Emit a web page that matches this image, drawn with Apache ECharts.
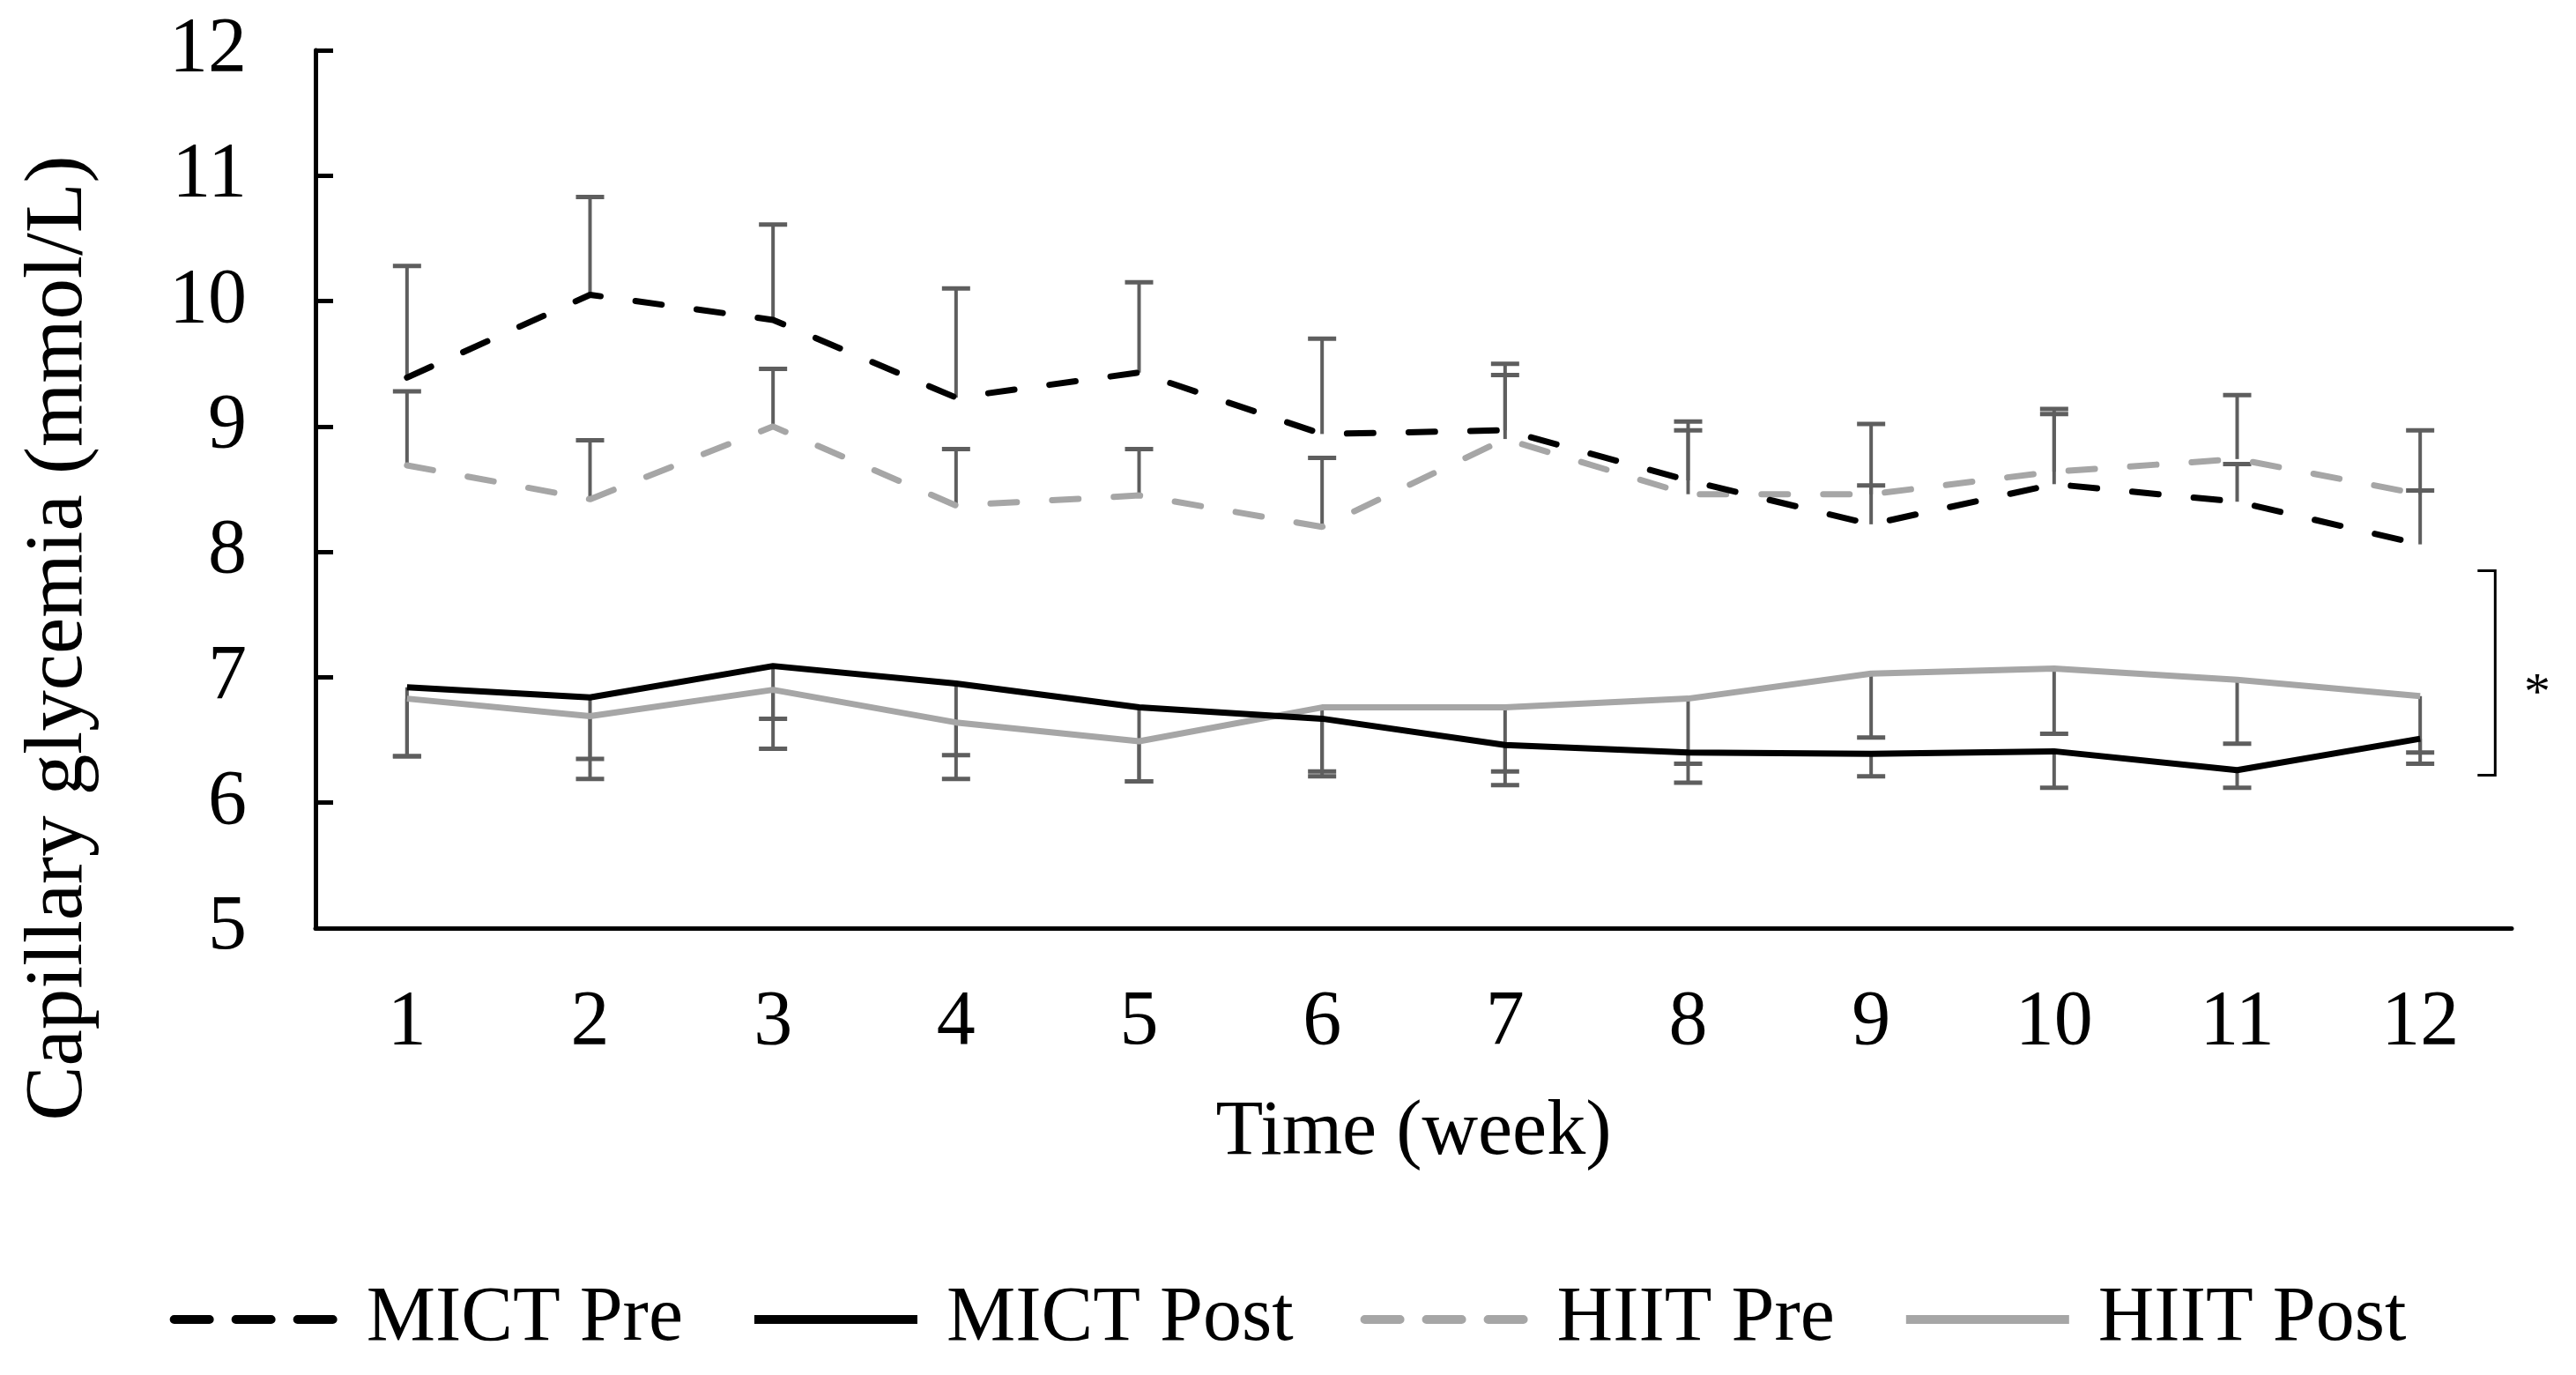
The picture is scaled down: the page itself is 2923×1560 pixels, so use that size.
<!DOCTYPE html>
<html>
<head>
<meta charset="utf-8">
<script src="https://cdn.jsdelivr.net/npm/echarts@6/dist/echarts.min.js"></script>
<style>
html,body{margin:0;padding:0;background:#fff;}
#chart{width:2923px;height:1560px;}
</style>
</head>
<body>
<div id="chart"></div>
<script>
// ---- data ----
const weeks = ['1','2','3','4','5','6','7','8','9','10','11','12'];
const yTicks = [5, 6, 7, 8, 9, 10, 11, 12];

const mictPre  = [9.39, 10.05, 9.85, 9.23, 9.43, 8.94, 8.97, 8.57, 8.22, 8.54, 8.40, 8.06];
const mictPreSD = [0.89, 0.78, 0.76, 0.87, 0.72, 0.76, 0.53, 0.47, 0.31, 0.60, 0.30, 0.43];
const hiitPre  = [8.69, 8.42, 9.00, 8.37, 8.45, 8.20, 8.90, 8.46, 8.46, 8.64, 8.74, 8.46];
const hiitPreSD = [0.59, 0.47, 0.46, 0.45, 0.37, 0.55, 0.51, 0.51, 0.56, 0.46, 0.51, 0.51];

const mictPost = [6.92, 6.84, 7.09, 6.95, 6.76, 6.67, 6.46, 6.40, 6.39, 6.41, 6.26, 6.51];
const mictPostSD = [0.55, 0.49, 0.42, 0.57, 0.59, 0.42, 0.32, 0.24, 0.18, 0.29, 0.14, 0.20];
const hiitPost = [6.83, 6.69, 6.90, 6.64, 6.49, 6.76, 6.76, 6.83, 7.03, 7.07, 6.98, 6.85];
const hiitPostSD = [0.46, 0.50, 0.47, 0.45, 0.32, 0.55, 0.51, 0.52, 0.51, 0.52, 0.51, 0.45];

// significance bracket: [top value, bottom value, star value]
const sigBracket = [7.85, 6.22, 6.92];
const sigLabel = '*';

const seriesNames = ['MICT Pre', 'MICT Post', 'HIIT Pre', 'HIIT Post'];

// ---- styles ----
const FONT = 'Liberation Serif';
const BLACK = '#000000';
const GREY = '#a6a6a6';
const ERR = '#5e5e5e';

function errData(vals, sds) {
  return vals.map((v, i) => [i, v, sds[i]]);
}
function errSeries(name, vals, sds, dir) {
  return {
    type: 'custom',
    name: name + ' SD',
    z: 1,
    clip: false,
    encode: { x: 0, y: 1 },
    data: errData(vals, sds),
    renderItem: function (params, api) {
      const x = api.value(0), v = api.value(1), sd = api.value(2);
      const p0 = api.coord([x, v]);
      const p1 = api.coord([x, v + dir * sd]);
      return {
        type: 'group',
        children: [
          { type: 'line', shape: { x1: p0[0], y1: p0[1], x2: p1[0], y2: p1[1] },
            style: { stroke: ERR, lineWidth: 4 } },
          { type: 'line', shape: { x1: p1[0] - 16, y1: p1[1], x2: p1[0] + 16, y2: p1[1] },
            style: { stroke: ERR, lineWidth: 5 } }
        ]
      };
    }
  };
}
function lineSeries(name, vals, color, dashed) {
  return {
    type: 'line',
    name: name,
    z: 3,
    data: vals,
    symbol: 'none',
    lineStyle: { color: color, width: 7, type: dashed ? [30, 40] : 'solid', cap: dashed ? 'round' : 'butt' },
    itemStyle: { color: color }
  };
}

const chart = echarts.init(document.getElementById('chart'), null, { renderer: 'canvas' });

const hiddenSymbol = { opacity: 0, color: 'transparent', borderWidth: 0 };

const option = {
  animation: false,
  backgroundColor: '#ffffff',
  textStyle: { fontFamily: FONT, color: BLACK },
  grid: { left: 358, right: 73, top: 57, bottom: 507, containLabel: false },
  xAxis: {
    type: 'category',
    data: weeks,
    boundaryGap: true,
    name: 'Time (week)',
    nameLocation: 'middle',
    nameGap: 189,
    nameTextStyle: { fontFamily: FONT, fontSize: 88, color: BLACK },
    axisLine: { show: true, lineStyle: { color: BLACK, width: 5 } },
    axisTick: { show: false },
    axisLabel: { fontFamily: FONT, fontSize: 88, color: BLACK, margin: 64 },
    splitLine: { show: false }
  },
  yAxis: {
    type: 'value',
    min: yTicks[0],
    max: yTicks[yTicks.length - 1],
    interval: 1,
    name: 'Capillary glycemia (mmol/L)',
    nameLocation: 'middle',
    nameGap: 244,
    nameTextStyle: { fontFamily: FONT, fontSize: 93, color: BLACK, padding: [0, 338, 0, 0] },
    axisLine: { show: true, lineStyle: { color: BLACK, width: 5 } },
    axisTick: { show: true, inside: true, length: 20, lineStyle: { color: BLACK, width: 5 } },
    axisLabel: { fontFamily: FONT, fontSize: 88, color: BLACK, margin: 78 },
    splitLine: { show: false }
  },
  legend: {
    left: 'center',
    top: 1448,
    itemWidth: 185,
    itemHeight: 30,
    itemGap: 76,
    itemStyle: hiddenSymbol,
    textStyle: { fontFamily: FONT, fontSize: 88, color: BLACK, padding: [0, 0, 0, 28] },
    data: [
      { name: seriesNames[0], itemStyle: hiddenSymbol, lineStyle: { width: 10, type: [40, 30], color: BLACK } },
      { name: seriesNames[1], itemStyle: hiddenSymbol, lineStyle: { width: 10, type: 'solid', color: BLACK } },
      { name: seriesNames[2], itemStyle: hiddenSymbol, lineStyle: { width: 10, type: [40, 30], color: GREY } },
      { name: seriesNames[3], itemStyle: hiddenSymbol, lineStyle: { width: 10, type: 'solid', color: GREY } }
    ]
  },
  series: [
    errSeries(seriesNames[0], mictPre, mictPreSD, 1),
    errSeries(seriesNames[2], hiitPre, hiitPreSD, 1),
    errSeries(seriesNames[1], mictPost, mictPostSD, -1),
    errSeries(seriesNames[3], hiitPost, hiitPostSD, -1),
    lineSeries(seriesNames[2], hiitPre, GREY, true),
    lineSeries(seriesNames[3], hiitPost, GREY, false),
    lineSeries(seriesNames[0], mictPre, BLACK, true),
    lineSeries(seriesNames[1], mictPost, BLACK, false),
    {
      type: 'custom',
      name: 'significance',
      clip: false,
      z: 4,
      encode: { x: 0, y: 1 },
      data: [[weeks.length - 1, sigBracket[0], sigBracket[1], sigBracket[2]]],
      renderItem: function (params, api) {
        const xi = api.value(0);
        const top = api.coord([xi, api.value(1)]);
        const bot = api.coord([xi, api.value(2)]);
        const star = api.coord([xi, api.value(3)]);
        const bw = api.size([1, 0])[0];
        const bx = top[0] + 0.41 * bw;
        const sx = top[0] + 0.64 * bw;
        return {
          type: 'group',
          children: [
            { type: 'polyline', shape: { points: [[bx - 20, top[1]], [bx, top[1]], [bx, bot[1]], [bx - 20, bot[1]]] },
              style: { stroke: BLACK, lineWidth: 3, fill: null } },
            { type: 'text', x: sx, y: star[1] + 8,
              style: { text: sigLabel, fontFamily: FONT, fontSize: 60, fill: BLACK, align: 'center', verticalAlign: 'middle' } }
          ]
        };
      }
    }
  ]
};
chart.setOption(option);
</script>
</body>
</html>
